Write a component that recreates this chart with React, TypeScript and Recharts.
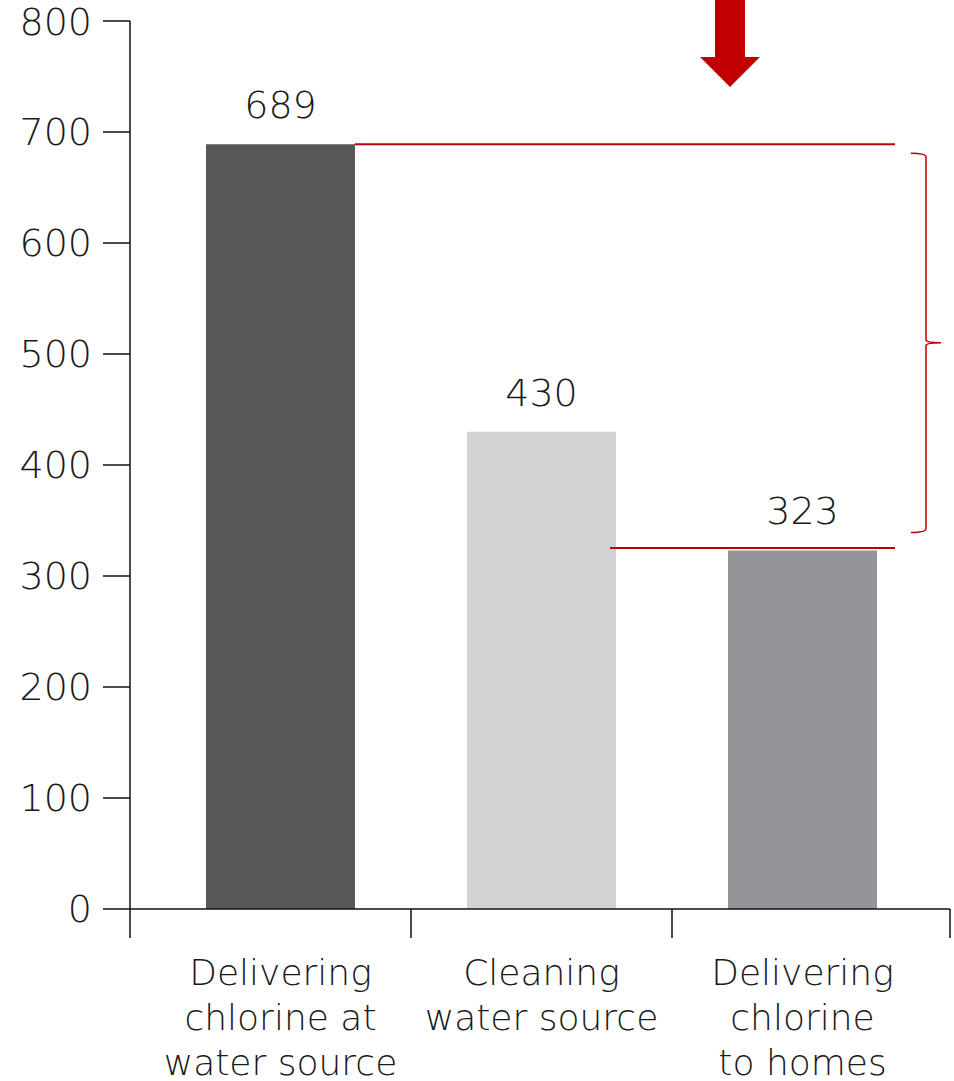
import React from 'react';
import { BarChart, Bar, XAxis, YAxis, Cell, LabelList, ReferenceLine, ReferenceArea } from 'recharts';

const categories = [
    ['Delivering', 'chlorine at', 'water source'],
    ['Cleaning', 'water source'],
    ['Delivering', 'chlorine', 'to homes'],
];
const costs = [689, 430, 323];
const barColors = ['#58585a', '#d1d2d4', '#939598'];
const yTicks = [0, 100, 200, 300, 400, 500, 600, 700, 800];

const RED = '#c00000';
const FONT = '"DejaVu Sans", Lato, sans-serif';

// plot layout
const W = 954;
const H = 1081;
const X0 = 130;
const X1 = 950;
const PAD_L = 20;
const PAD_R = 17;
const BAND = (X1 - X0 - PAD_L - PAD_R) / 3;

const data = categories.map((lines, i) => ({ name: lines.join(' '), lines, value: costs[i] }));

const CategoryTick = (props: any) => {
    const { x, y, index } = props;
    const lines = categories[index] || [];
    const marks: number[] = [];
    if (index === 0) marks.push(X0);
    if (index < categories.length - 1) marks.push(x + BAND / 2);
    if (index === categories.length - 1) marks.push(X1);
    return (
        <g>
            {marks.map((mx, k) => (
                <line key={k} x1={mx} x2={mx} y1={y} y2={y + 29} stroke="#111" strokeWidth={1.5} />
            ))}
            <text x={x} y={y} textAnchor="middle" fill="#1a1a1a" fontFamily={FONT} fontWeight={200} fontSize={36}>
                {lines.map((l, k) => (
                    <tspan key={k} x={x} y={y + 76 + k * 45}>{l}</tspan>
                ))}
            </text>
        </g>
    );
};

// horizontal red line starting at a bar's right edge and running to the bracket
const GapLine = (from: number, lift: number) => (props: any) => {
    const { y1 } = props;
    const start = X0 + PAD_L + BAND * from + BAND / 2 + 149 / 2;
    return <line x1={from === 1 ? start - 6 : start} x2={895} y1={y1 - lift} y2={y1 - lift} stroke={RED} strokeWidth={2} />;
};

const Bracket = (props: any) => {
    const { y, height } = props;
    const top = y + 9;
    const bot = y + height - 18;
    const mid = (top + bot) / 2;
    const bx = 926;
    const d = `M ${bx - 15} ${top} Q ${bx} ${top} ${bx} ${top + 4} L ${bx} ${mid - 3} Q ${bx} ${mid} ${bx + 15} ${mid} Q ${bx} ${mid} ${bx} ${mid + 3} L ${bx} ${bot - 4} Q ${bx} ${bot} ${bx - 15} ${bot}`;
    return <path d={d} fill="none" stroke={RED} strokeWidth={1.5} />;
};

export default function App() {
    return (
        <div style={{ position: 'absolute', left: 0, top: 0, width: W, height: H, background: '#fff' }}>
            <BarChart width={W} height={H} data={data} margin={{ top: 21, right: W - X1, bottom: 0, left: 0 }} barSize={149}>
                <YAxis
                    domain={[0, 800]}
                    ticks={yTicks}
                    width={X0}
                    tickSize={27}
                    tickMargin={11}
                    axisLine={{ stroke: '#111', strokeWidth: 1.5 }}
                    tickLine={{ stroke: '#111', strokeWidth: 1.5 }}
                    tick={{ fill: '#1a1a1a', fontSize: 38, fontFamily: FONT, fontWeight: 200 }}
                    interval={0}
                />
                <XAxis
                    dataKey="name"
                    height={H - 909}
                    padding={{ left: PAD_L, right: PAD_R }}
                    axisLine={{ stroke: '#111', strokeWidth: 1.5 }}
                    tickLine={false}
                    tickSize={0}
                    tickMargin={0}
                    tick={<CategoryTick />}
                    interval={0}
                />
                <Bar dataKey="value" isAnimationActive={false}>
                    {data.map((d, i) => (
                        <Cell key={d.name} fill={barColors[i]} />
                    ))}
                    <LabelList dataKey="value" position="top" offset={26} fill="#1a1a1a" fontFamily={FONT} fontWeight={200} fontSize={38} />
                </Bar>
                <ReferenceArea y1={costs[2]} y2={costs[0]} ifOverflow="visible" shape={<Bracket />} />
                <ReferenceLine y={costs[0]} ifOverflow="visible" shape={GapLine(0, 0)} />
                <ReferenceLine y={costs[2]} ifOverflow="visible" shape={GapLine(1, 2.5)} />
            </BarChart>
            <svg width={W} height={H} style={{ position: 'absolute', left: 0, top: 0, pointerEvents: 'none' }}>
                <polygon points="715,0 745,0 745,57 760,57 730,87 700,57 715,57" fill={RED} />
            </svg>
        </div>
    );
}
